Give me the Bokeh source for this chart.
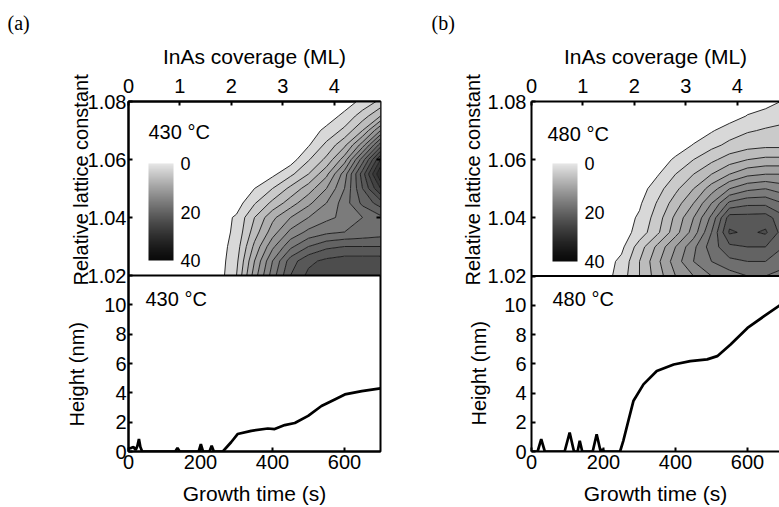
import numpy as np
from bokeh.plotting import figure
from bokeh.models import (Range1d, LinearAxis, FixedTicker, CustomJSTickFormatter, Span,
                          Label, Title, ColorBar, LinearColorMapper)
from bokeh.layouts import row
from bokeh.embed import file_html
from bokeh.resources import INLINE

# ---------------- data ----------------
time_grid = [0, 50, 100, 150, 200, 250, 300, 350, 400, 450, 500, 550, 600, 650, 700]
lattice_grid = [1.020, 1.025, 1.030, 1.035, 1.040, 1.045, 1.050, 1.055, 1.060,
                1.065, 1.070, 1.075, 1.080]

# rows follow lattice_grid (bottom to top), columns follow time_grid
intensity_430 = [
    [0, 0, 0, 0, 0, 0, 3.0, 10.0, 16.0, 21.0, 23.5, 24.0, 24.5, 25.0, 25.0],
    [0, 0, 0, 0, 0, 0, 2.5, 9.0, 15.0, 20.0, 22.5, 23.5, 24.0, 24.0, 24.0],
    [0, 0, 0, 0, 0, 0, 2.0, 7.5, 12.5, 16.5, 19.0, 20.5, 21.0, 21.0, 21.0],
    [0, 0, 0, 0, 0, 0, 1.5, 6.0, 10.0, 13.5, 15.5, 16.5, 17.0, 17.5, 18.0],
    [0, 0, 0, 0, 0, 0, 1.3, 5.0, 8.5, 11.0, 13.0, 14.5, 15.5, 17.0, 18.5],
    [0, 0, 0, 0, 0, 0, 0, 2.8, 5.5, 8.0, 10.5, 13.0, 16.0, 19.5, 22.0],
    [0, 0, 0, 0, 0, 0, 0, 1.0, 3.0, 5.5, 8.0, 11.0, 15.0, 21.0, 27.0],
    [0, 0, 0, 0, 0, 0, 0, 0, 0.5, 2.5, 5.0, 8.5, 14.0, 22.0, 31.0],
    [0, 0, 0, 0, 0, 0, 0, 0, 0, 0, 2.8, 5.5, 10.0, 18.0, 27.0],
    [0, 0, 0, 0, 0, 0, 0, 0, 0, 0, 0.8, 3.5, 6.5, 12.0, 20.0],
    [0, 0, 0, 0, 0, 0, 0, 0, 0, 0, 0, 1.5, 3.5, 7.0, 13.0],
    [0, 0, 0, 0, 0, 0, 0, 0, 0, 0, 0, 0, 1.5, 4.0, 7.0],
    [0, 0, 0, 0, 0, 0, 0, 0, 0, 0, 0, 0, 0, 1.5, 3.5],
]

intensity_480 = [
    [0, 0, 0, 0, 0, 2.0, 5.0, 8.0, 11.0, 13.0, 15.0, 16.0, 17.0, 17.0, 16.0],
    [0, 0, 0, 0, 0, 1.5, 5.0, 8.5, 12.0, 15.0, 17.0, 18.5, 19.0, 19.0, 18.0],
    [0, 0, 0, 0, 0, 0.5, 4.0, 7.5, 11.0, 14.5, 18.0, 20.5, 21.0, 21.0, 19.0],
    [0, 0, 0, 0, 0, 0, 1.8, 4.6, 8.2, 11.9, 17.0, 23.3, 22.6, 23.3, 20.0],
    [0, 0, 0, 0, 0, 0, 1.3, 4.0, 7.5, 11.0, 15.5, 22.0, 21.8, 22.0, 19.5],
    [0, 0, 0, 0, 0, 0, 0.7, 3.2, 6.0, 9.0, 13.0, 17.5, 18.5, 18.5, 17.0],
    [0, 0, 0, 0, 0, 0, 0, 2.2, 4.5, 7.0, 10.0, 13.0, 14.5, 15.0, 14.0],
    [0, 0, 0, 0, 0, 0, 0, 0.8, 3.0, 5.0, 7.0, 9.0, 10.5, 11.0, 11.0],
    [0, 0, 0, 0, 0, 0, 0, 0, 1.3, 3.0, 4.5, 6.0, 7.0, 7.5, 7.5],
    [0, 0, 0, 0, 0, 0, 0, 0, 0, 1.1, 2.4, 3.5, 4.2, 4.5, 4.5],
    [0, 0, 0, 0, 0, 0, 0, 0, 0, 0, 0.8, 2.0, 2.8, 3.2, 3.4],
    [0, 0, 0, 0, 0, 0, 0, 0, 0, 0, 0, 0, 1.1, 2.0, 2.5],
    [0, 0, 0, 0, 0, 0, 0, 0, 0, 0, 0, 0, 0, 0, 1.2],
]

time_430 = [0, 8, 14, 20, 25, 29, 33, 38, 130, 136, 142, 195, 201, 207, 225, 231, 237,
            262, 285, 303, 341, 387, 406, 434, 462, 499, 536, 573, 601, 648, 700]
height_430 = [0.2, 0.25, 0.3, 0.1, 0.4, 0.85, 0.3, 0, 0, 0.25, 0, 0, 0.5, 0, 0, 0.4, 0,
              0, 0.63, 1.19, 1.41, 1.57, 1.53, 1.8, 1.94, 2.43, 3.1, 3.55, 3.89, 4.12, 4.3]

time_480 = [0, 17, 27, 37, 92, 106, 118, 128, 134, 141, 170, 181, 192, 197, 202, 246,
            255, 269, 283, 311, 348, 395, 441, 488, 516, 553, 600, 646, 693]
height_480 = [0, 0, 0.84, 0, 0, 1.3, 0, 0, 0.73, 0, 0, 1.18, 0, 0.15, 0, 0,
              0.73, 2.09, 3.45, 4.59, 5.5, 5.95, 6.18, 6.3, 6.52, 7.32, 8.45, 9.25, 10.05]

coverage_ticks = [0, 1, 2, 3, 4]
time_ticks = [0, 200, 400, 600]
height_ticks = [0, 2, 4, 6, 8, 10]
lattice_ticks = [1.02, 1.04, 1.06, 1.08]
colorbar_ticks = [0, 20, 40]
ML_PER_S = 0.007

# ---------------- styling ----------------
FONT = "Liberation Sans"
levels = list(range(1, 37, 2))


def gray(v):
    v = min(max(v, 0.0), 40.0)
    g = int(round(10 + 220 * (1 - v / 40.0) ** 1.3))
    return "#%02x%02x%02x" % (g, g, g)


fill_colors = [gray((levels[i] + levels[i + 1]) / 2) for i in range(len(levels) - 1)]
cb_palette = [gray(40 - 40 * i / 255) for i in range(256)]


def style_axis(ax, standoff):
    ax.major_label_text_font = FONT
    ax.major_label_text_font_size = "20px"
    ax.major_label_text_color = "black"
    ax.axis_label_text_font = FONT
    ax.axis_label_text_font_size = "21px"
    ax.axis_label_text_font_style = "normal"
    ax.axis_label_text_color = "black"
    ax.axis_line_width = 2
    ax.axis_line_color = "black"
    ax.major_tick_in = 4
    ax.major_tick_out = 0
    ax.major_tick_line_width = 2
    ax.minor_tick_line_color = None
    ax.major_label_standoff = standoff


def make_panel(tag, temp, z, t, h, cfg):
    top = cfg["top"]
    frame_h = cfg["frame_h"]
    bottom_px = cfg["bottom_px"]
    left = 128
    fb = top + frame_h  # canvas y of frame bottom
    y_max = 12.0 * frame_h / bottom_px
    top_px = frame_h - bottom_px
    lat_per_px = 0.06 / top_px
    lat_start = 1.02 - bottom_px * lat_per_px
    k = lat_per_px * bottom_px / 12.0  # lattice units per main unit

    p = figure(width=cfg["width"], height=507, x_range=Range1d(0, cfg["x_end"]),
               y_range=Range1d(0, y_max * (1 + 1e-6)), output_backend="svg",
               toolbar_location=None,
               min_border_left=left, min_border_right=cfg["right"], min_border_top=top,
               min_border_bottom=507 - fb)
    p.extra_y_ranges = {"lat": Range1d(lat_start, 1.08 + 1e-7)}
    p.extra_x_ranges = {"ml": Range1d(0, cfg["x_end"] * ML_PER_S)}
    p.grid.visible = False
    p.outline_line_color = "black" if cfg["outline"] else None
    p.outline_line_width = 2
    p.background_fill_color = "white"
    p.border_fill_color = "white"

    # panel tag, e.g. "(a)"
    p.title.text = tag
    p.title.align = "left"
    p.title.offset = cfg["tag"][0] - left
    p.title.vertical_align = "top"
    p.title.standoff = cfg["tag"][1]
    p.title.text_font = "Liberation Serif"
    p.title.text_font_size = "20px"
    p.title.text_font_style = "normal"
    p.title.text_color = "black"

    cr = p.contour(np.array(time_grid, dtype=float), np.array(lattice_grid, dtype=float),
                   np.array(z, dtype=float), levels, fill_color=fill_colors,
                   line_color="#151515", line_width=0.9)
    for r in (cr, cr.fill_renderer, cr.line_renderer):
        r.y_range_name = "lat"

    p.line(t, h, line_color="black", line_width=2.7)
    p.add_layout(Span(location=12.0, dimension="width", line_color="black", line_width=2))

    xa = p.xaxis[0]
    xa.ticker = FixedTicker(ticks=time_ticks)
    xa.axis_label = "Growth time (s)"
    style_axis(xa, 3)
    xa.axis_label_standoff = 10

    ya = p.yaxis[0]
    lat_pos = [12.0 + (L - 1.02) / k for L in lattice_ticks]
    ya.ticker = FixedTicker(ticks=list(height_ticks) + lat_pos)
    ya.formatter = CustomJSTickFormatter(
        args=dict(split=12.0, k=k, base=lattice_ticks[0]),
        code="if (tick < split - 0.01) { return tick.toFixed(0); } "
             "return (base + (tick - split) * k).toFixed(2);")
    style_axis(ya, cfg["ystand"])

    ta = LinearAxis(x_range_name="ml", ticker=FixedTicker(ticks=coverage_ticks),
                    axis_label="InAs coverage (ML)")
    style_axis(ta, 9)
    ta.axis_label_standoff = 8
    p.add_layout(ta, "above")

    if cfg["right"] > 10:
        ra = LinearAxis(y_range_name="lat", ticker=FixedTicker(ticks=lattice_ticks[1:3]),
                        formatter=CustomJSTickFormatter(code="return '';"))
        style_axis(ra, 0)
        ra.axis_line_color = None
        p.add_layout(ra, "right")

    # rotated axis titles on the left (stacked outward from the tick labels)
    for text, standoff, offset in cfg["ytitles"]:
        p.add_layout(Title(text=text, align="left", offset=offset, standoff=standoff,
                           vertical_align="bottom", text_font=FONT,
                           text_font_size="20px", text_font_style="normal",
                           text_color="black"), "left")

    def lab(cx, cy, text, size):
        p.add_layout(Label(x=cx - left, y=fb - cy, x_units="screen", y_units="screen",
                           text=text, text_font=FONT, text_font_size=size,
                           text_align="left", text_baseline="middle",
                           text_color="black"))

    lab(cfg["t1"][0], cfg["t1"][1], temp, "20px")
    lab(cfg["t2"][0], cfg["t2"][1], temp, "20px")

    cbl, cbt, cbb = cfg["cb"]
    mapper = LinearColorMapper(palette=cb_palette, low=0, high=40)
    cb = ColorBar(color_mapper=mapper, ticker=FixedTicker(ticks=colorbar_ticks),
                  formatter=CustomJSTickFormatter(args=dict(top=max(colorbar_ticks)),
                                                  code="return (top - tick).toFixed(0);"),
                  orientation="vertical", width=25, height=cbb - cbt,
                  location=(cbl - left, fb - cbb), padding=0,
                  major_tick_line_color=None, minor_tick_line_color=None,
                  bar_line_color=None, border_line_color=None,
                  background_fill_alpha=0, label_standoff=7,
                  major_label_text_font=FONT, major_label_text_font_size="18px",
                  major_label_text_color="black")
    p.add_layout(cb, "center")
    return p


cfg_a = dict(top=101, frame_h=352, bottom_px=177, width=403, right=23, x_end=700.0,
             ystand=2, tag=(7, 12), t1=(148, 133), t2=(145, 300), cb=(148, 165, 262),
             outline=True,
             ytitles=[("Relative lattice constant", -15, 166), ("Height (nm)", -24, 25)])
cfg_b = dict(top=100, frame_h=351, bottom_px=176, width=376, right=0, x_end=248 / 0.36,
             ystand=5, tag=(28, 12), t1=(144, 133), t2=(149, 298), cb=(149, 163, 261),
             outline=False,
             ytitles=[("Height (nm)", -10, 26), ("Relative lattice constant", -26, 166)])

pa = make_panel("(a)", "430 °C", intensity_430, time_430, height_430, cfg_a)
pb = make_panel("(b)", "480 °C", intensity_480, time_480, height_480, cfg_b)

layout = row(pa, pb)
open("out.html", "w").write(file_html(layout, INLINE))
